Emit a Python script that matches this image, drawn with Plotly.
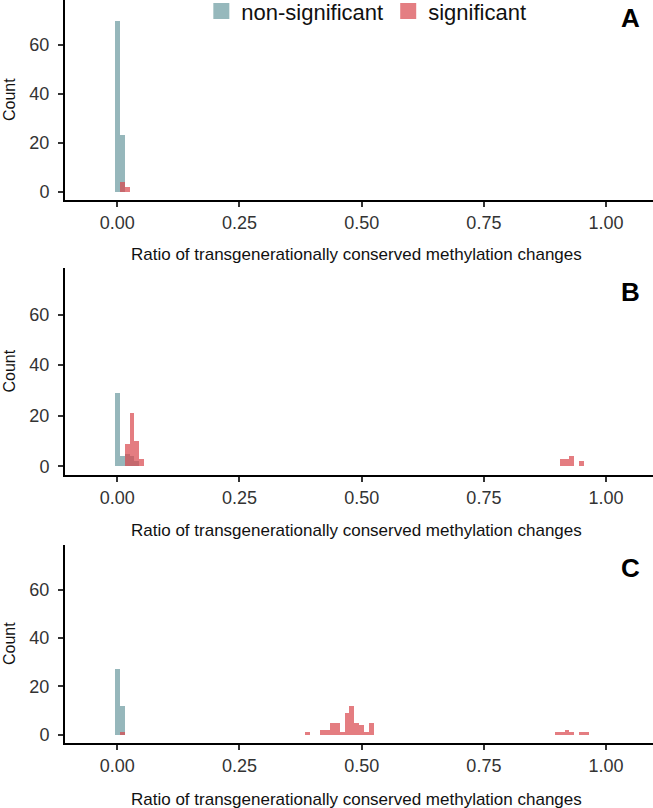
import plotly.graph_objects as go

W, H = 653, 808

# ---- data (bin centres, binwidth 0.01) ----
a_ns_x = [0.00, 0.01]
a_ns_y = [70, 23]
a_s_x = [0.01, 0.02]
a_s_y = [4, 2]

b_ns_x = [0.00, 0.01, 0.02, 0.03, 0.04]
b_ns_y = [29, 4, 5, 4, 2]
b_s_x = [0.02, 0.03, 0.04, 0.05, 0.91, 0.92, 0.93, 0.95]
b_s_y = [9, 21, 10, 3, 3, 3, 4, 2]

c_ns_x = [0.00, 0.01]
c_ns_y = [27, 12]
c_s_x = [0.01, 0.39, 0.42, 0.43, 0.44, 0.45, 0.46, 0.47, 0.48, 0.49, 0.50,
         0.51, 0.52, 0.90, 0.91, 0.92, 0.93, 0.95, 0.96]
c_s_y = [1, 1, 2, 2, 5, 5, 1, 9, 12, 5, 4, 1, 5, 1, 1, 2, 1, 1, 1]

x_ticks = [0, 0.25, 0.5, 0.75, 1.0]
x_ticklabels = ["0.00", "0.25", "0.50", "0.75", "1.00"]
y_ticks = [0, 20, 40, 60]
series_names = ["non-significant", "significant"]
panel_labels = ["A", "B", "C"]
x_title = "Ratio of transgenerationally conserved methylation changes"
y_title = "Count"

TEAL = "#6a9a9f"
RED = "#d9474d"
OP = 0.7
BINW = 0.01
FONT = "Liberation Sans, Arial, sans-serif"

panels = [
    (a_ns_x, a_ns_y, a_s_x, a_s_y),
    (b_ns_x, b_ns_y, b_s_x, b_s_y),
    (c_ns_x, c_ns_y, c_s_x, c_s_y),
]
# pixel extents of each panel (top, bottom)
px_extent = [(0, 200), (268, 475), (545, 743)]
xtitle_px = [254, 530, 799]
letter_px = [18, 292, 568]

fig = go.Figure()
for i, (nx, ny, sx, sy) in enumerate(panels):
    sfx = "" if i == 0 else str(i + 1)
    fig.add_trace(go.Bar(x=nx, y=ny, width=BINW, marker=dict(color=TEAL, line=dict(width=0)),
                         opacity=OP, showlegend=False, xaxis="x" + sfx, yaxis="y" + sfx,
                         name=series_names[0]))
    fig.add_trace(go.Bar(x=sx, y=sy, width=BINW, marker=dict(color=RED, line=dict(width=0)),
                         opacity=OP, showlegend=False, xaxis="x" + sfx, yaxis="y" + sfx,
                         name=series_names[1]))

# legend entries
for name, col in zip(series_names, [TEAL, RED]):
    fig.add_trace(go.Scatter(x=[None], y=[None], mode="markers", name=name,
                             marker=dict(symbol="square", size=16, color=col, opacity=OP),
                             xaxis="x", yaxis="y"))

layout = dict(
    width=W, height=H,
    margin=dict(l=0, r=0, t=0, b=0, autoexpand=False),
    paper_bgcolor="white", plot_bgcolor="white",
    barmode="overlay", bargap=0,
    font=dict(family=FONT, color="#222"),
    legend=dict(orientation="h", x=0.561, xanchor="center", y=1.012, yanchor="top",
                font=dict(size=22, color="#111", family=FONT), bgcolor="rgba(0,0,0,0)",
                itemwidth=30, tracegroupgap=0),
    annotations=[],
)

axis_common_x = dict(range=[-0.107, 1.096], showline=True, linecolor="black", linewidth=2,
                     ticks="outside", ticklen=5, tickwidth=2, tickcolor="#333",
                     tickvals=x_ticks, ticktext=x_ticklabels, showgrid=False, zeroline=False,
                     tickfont=dict(size=18, color="#333", family=FONT), automargin=False)
axis_common_y = dict(range=[-3.4, 78.4], showline=True, linecolor="black", linewidth=2,
                     ticks="outside", ticklen=5, tickwidth=2, tickcolor="#333",
                     tickvals=y_ticks, showgrid=False, zeroline=False, ticklabelstandoff=5,
                     tickfont=dict(size=18, color="#333", family=FONT), automargin=False)

for i, (top, bot) in enumerate(px_extent):
    sfx = "" if i == 0 else str(i + 1)
    dom = [1 - bot / H, 1 - top / H]
    layout["xaxis" + sfx] = dict(axis_common_x, domain=[65 / W, 1], anchor="y" + sfx)
    layout["yaxis" + sfx] = dict(axis_common_y, domain=dom, anchor="x" + sfx)
    layout["annotations"].append(dict(
        text=y_title, xref="paper", yref="paper", x=9 / W, y=1 - (top + bot) / 2 / H,
        textangle=-90, showarrow=False, xanchor="center", yanchor="middle",
        font=dict(size=16, color="#111", family=FONT)))
    layout["annotations"].append(dict(
        text=x_title, xref="paper", yref="paper", x=357 / W, y=1 - xtitle_px[i] / H,
        showarrow=False, xanchor="center", yanchor="middle",
        font=dict(size=17, color="#111", family=FONT)))
    layout["annotations"].append(dict(
        text="<b>" + panel_labels[i] + "</b>", xref="paper", yref="paper", x=630 / W,
        y=1 - letter_px[i] / H, showarrow=False, xanchor="center", yanchor="middle",
        font=dict(size=26, color="black", family=FONT)))

fig.update_layout(**layout)
fig.write_html("out.html", config={"displayModeBar": False},
               post_script="document.body.style.margin='0';")
